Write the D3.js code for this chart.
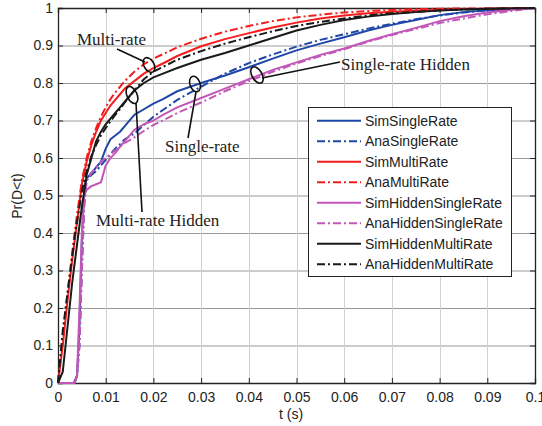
<!DOCTYPE html>
<html>
<head>
<meta charset="utf-8">
<script src="https://cdn.jsdelivr.net/npm/d3@7/dist/d3.min.js"></script>
<style>
  html, body { margin: 0; padding: 0; background: #fff; }
  svg { display: block; }
  .tick text { font-family: Arial, "Liberation Sans", sans-serif; }
</style>
</head>
<body>
<svg id="chart" width="542" height="426"></svg>
<script>
// Delay CDF, Pr(D<t), for single/multi-rate schemes (simulation vs analysis)
const tGrid = [0, 0.001, 0.002, 0.003, 0.0035, 0.004, 0.0045, 0.005, 0.0055, 0.006,
  0.007, 0.008, 0.009, 0.010, 0.011, 0.012, 0.013, 0.014, 0.016, 0.018, 0.020, 0.022,
  0.025, 0.030, 0.035, 0.040, 0.045, 0.050, 0.055, 0.060, 0.065, 0.070, 0.075, 0.080,
  0.085, 0.090, 0.095, 0.100];

const simSingleRate = [0, 0, 0, 0, 0, 0.02, 0.15, 0.38, 0.52, 0.545,
  0.56, 0.575, 0.59, 0.625, 0.65, 0.66, 0.67, 0.685, 0.715, 0.73, 0.745, 0.757,
  0.778, 0.80, 0.82, 0.842, 0.865, 0.887, 0.905, 0.922, 0.94, 0.955, 0.968, 0.981,
  0.989, 0.994, 0.997, 1];
const anaSingleRate = [0, 0, 0, 0, 0.005, 0.02, 0.10, 0.30, 0.48, 0.54,
  0.555, 0.565, 0.58, 0.595, 0.61, 0.625, 0.637, 0.65, 0.665, 0.688, 0.71, 0.728,
  0.755, 0.79, 0.825, 0.853, 0.876, 0.897, 0.915, 0.93, 0.945, 0.958, 0.97, 0.98,
  0.988, 0.994, 0.997, 1];
const simMultiRate = [0, 0.10, 0.22, 0.33, 0.38, 0.43, 0.48, 0.53, 0.56, 0.59,
  0.635, 0.67, 0.70, 0.72, 0.74, 0.755, 0.77, 0.785, 0.805, 0.825, 0.84, 0.852,
  0.872, 0.898, 0.917, 0.933, 0.948, 0.961, 0.972, 0.98, 0.986, 0.99, 0.993, 0.995,
  0.997, 0.998, 0.999, 1];
const anaMultiRate = [0, 0.12, 0.24, 0.35, 0.40, 0.45, 0.495, 0.54, 0.57, 0.60,
  0.645, 0.68, 0.71, 0.735, 0.757, 0.775, 0.79, 0.805, 0.83, 0.85, 0.865, 0.877,
  0.895, 0.918, 0.937, 0.952, 0.965, 0.975, 0.982, 0.988, 0.992, 0.995, 0.997, 0.998,
  0.999, 0.999, 1, 1];
const simHiddenSingleRate = [0, 0, 0, 0, 0, 0.02, 0.20, 0.40, 0.50, 0.515,
  0.525, 0.53, 0.535, 0.58, 0.60, 0.613, 0.63, 0.645, 0.675, 0.69, 0.70, 0.715,
  0.735, 0.76, 0.785, 0.81, 0.835, 0.855, 0.875, 0.892, 0.912, 0.93, 0.947, 0.965,
  0.978, 0.988, 0.995, 1];
const anaHiddenSingleRate = [0, 0, 0, 0, 0.005, 0.02, 0.10, 0.30, 0.47, 0.54,
  0.56, 0.575, 0.59, 0.60, 0.61, 0.62, 0.63, 0.64, 0.655, 0.672, 0.688, 0.70,
  0.72, 0.748, 0.778, 0.805, 0.83, 0.852, 0.872, 0.89, 0.91, 0.928, 0.944, 0.96,
  0.972, 0.983, 0.992, 1];
const simHiddenMultiRate = [0, 0.03, 0.15, 0.27, 0.32, 0.37, 0.42, 0.47, 0.51, 0.555,
  0.60, 0.645, 0.67, 0.69, 0.705, 0.72, 0.735, 0.75, 0.78, 0.80, 0.815, 0.825,
  0.84, 0.862, 0.88, 0.90, 0.92, 0.94, 0.955, 0.968, 0.977, 0.984, 0.989, 0.993,
  0.996, 0.998, 0.999, 1];
const anaHiddenMultiRate = [0, 0.14, 0.24, 0.34, 0.39, 0.43, 0.47, 0.51, 0.54, 0.565,
  0.605, 0.635, 0.66, 0.68, 0.698, 0.715, 0.73, 0.748, 0.78, 0.81, 0.83, 0.843,
  0.862, 0.885, 0.905, 0.922, 0.938, 0.952, 0.963, 0.972, 0.98, 0.986, 0.99, 0.994,
  0.996, 0.998, 0.999, 1];

const seriesNames = ["SimSingleRate", "AnaSingleRate", "SimMultiRate", "AnaMultiRate",
  "SimHiddenSingleRate", "AnaHiddenSingleRate", "SimHiddenMultiRate", "AnaHiddenMultiRate"];
const seriesValues = [simSingleRate, anaSingleRate, simMultiRate, anaMultiRate,
  simHiddenSingleRate, anaHiddenSingleRate, simHiddenMultiRate, anaHiddenMultiRate];
const seriesColors = ["#1f47a8", "#1f47a8", "#f41c1c", "#f41c1c",
  "#c257b8", "#c257b8", "#1a1a1a", "#1a1a1a"];
const seriesDashed = [false, true, false, true, false, true, false, true];

const xTicks = [0, 0.01, 0.02, 0.03, 0.04, 0.05, 0.06, 0.07, 0.08, 0.09, 0.1];
const yTicks = [0, 0.1, 0.2, 0.3, 0.4, 0.5, 0.6, 0.7, 0.8, 0.9, 1];

// group annotations: label, label position, ellipse, leader line
const groupLabels = [
  { text: "Multi-rate", lx: 77, ly: 45, cx: 149, cy: 65, rx: 5, ry: 8, rot: -30, line: [[117, 49], [145, 62]] },
  { text: "Multi-rate Hidden", lx: 96, ly: 226, cx: 132, cy: 95, rx: 5, ry: 9, rot: -25, line: [[136, 103], [142, 212]] },
  { text: "Single-rate", lx: 165, ly: 152, cx: 195, cy: 84, rx: 5, ry: 8, rot: -20, line: [[196, 92], [188, 138]] },
  { text: "Single-rate Hidden", lx: 341, ly: 70, cx: 257, cy: 75, rx: 5, ry: 9, rot: -30, line: [[262, 78], [340, 62]] }
];

const svg = d3.select("#chart");
const x = d3.scaleLinear().domain([0, 0.1]).range([58, 535]);
const y = d3.scaleLinear().domain([0, 1]).range([383, 8]);

// grid
svg.append("g").selectAll("line").data(yTicks.slice(1, -1)).join("line")
  .attr("x1", x(0)).attr("x2", x(0.1))
  .attr("y1", d => y(d) + 0.5).attr("y2", d => y(d) + 0.5)
  .attr("stroke", "#9a9a9a").attr("stroke-width", 1);
svg.append("g").selectAll("line").data(xTicks.slice(1, -1)).join("line")
  .attr("y1", y(0)).attr("y2", y(1))
  .attr("x1", d => Math.round(x(d)) + 0.5).attr("x2", d => Math.round(x(d)) + 0.5)
  .attr("stroke", "#d2d2d2").attr("stroke-width", 1);

// axes with inward ticks on all four sides
const fmt = d => d3.format("")(+d.toFixed(2));
const axFont = "14px";
svg.append("g").attr("transform", `translate(0,${y(0)})`)
  .call(d3.axisBottom(x).tickValues(xTicks).tickFormat(fmt).tickSize(-5).tickPadding(9));
svg.append("g").attr("transform", `translate(${x(0)},0)`)
  .call(d3.axisLeft(y).tickValues(yTicks).tickFormat(fmt).tickSize(-5).tickPadding(5));
svg.append("g").attr("transform", `translate(0,${y(1)})`)
  .call(d3.axisTop(x).tickValues(xTicks).tickFormat("").tickSize(-5));
svg.append("g").attr("transform", `translate(${x(0.1)},0)`)
  .call(d3.axisRight(y).tickValues(yTicks).tickFormat("").tickSize(-5));
svg.selectAll(".domain").attr("stroke", "#222").attr("stroke-width", 1.3);
svg.selectAll(".tick line").attr("stroke", "#222");
svg.selectAll(".tick text").attr("font-size", axFont).attr("fill", "#222");

// curves
const line = d3.line().x((d, i) => x(tGrid[i])).y(d => y(d));
const plot = svg.append("g");
seriesValues.forEach((vals, k) => {
  plot.append("path").datum(vals)
    .attr("d", line)
    .attr("fill", "none")
    .attr("stroke", seriesColors[k])
    .attr("stroke-width", 2)
    .attr("stroke-linejoin", "round")
    .attr("stroke-dasharray", seriesDashed[k] ? "8,3,2,3" : null);
});

// axis titles
svg.append("text").attr("x", 291).attr("y", 419).attr("text-anchor", "middle")
  .attr("font-family", "Arial, 'Liberation Sans', sans-serif").attr("font-size", "14px")
  .attr("fill", "#222").text("t (s)");
svg.append("text").attr("transform", "translate(22,196) rotate(-90)").attr("text-anchor", "middle")
  .attr("font-family", "Arial, 'Liberation Sans', sans-serif").attr("font-size", "14px")
  .attr("fill", "#222").text("Pr(D<t)");

// group annotations
const ann = svg.append("g");
groupLabels.forEach(g => {
  ann.append("line").attr("x1", g.line[0][0]).attr("y1", g.line[0][1])
    .attr("x2", g.line[1][0]).attr("y2", g.line[1][1])
    .attr("stroke", "#111").attr("stroke-width", 1.6);
  ann.append("ellipse").attr("cx", g.cx).attr("cy", g.cy).attr("rx", g.rx).attr("ry", g.ry)
    .attr("transform", `rotate(${g.rot},${g.cx},${g.cy})`)
    .attr("fill", "none").attr("stroke", "#111").attr("stroke-width", 1.6);
  ann.append("text").attr("x", g.lx).attr("y", g.ly)
    .attr("font-family", "'Times New Roman', 'Liberation Serif', serif").attr("font-size", "17px")
    .attr("fill", "#222").text(g.text);
});

// legend
const leg = svg.append("g");
leg.append("rect").attr("x", 308.5).attr("y", 107.5).attr("width", 203).attr("height", 169)
  .attr("fill", "#fff").attr("stroke", "#222").attr("stroke-width", 1);
seriesNames.forEach((name, k) => {
  const yy = 120.7 + k * 20.5;
  leg.append("line").attr("x1", 317).attr("x2", 361).attr("y1", yy).attr("y2", yy)
    .attr("stroke", seriesColors[k]).attr("stroke-width", 2)
    .attr("stroke-dasharray", seriesDashed[k] ? "8,3,2,3" : null);
  leg.append("text").attr("x", 365).attr("y", yy + 5)
    .attr("font-family", "Arial, 'Liberation Sans', sans-serif").attr("font-size", "14px")
    .attr("fill", "#222").text(name);
});
</script>
</body>
</html>
